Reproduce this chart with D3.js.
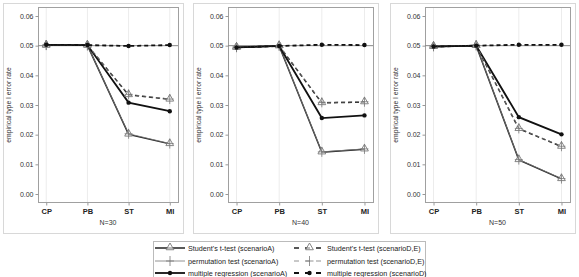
<!DOCTYPE html>
<html>
<head>
<meta charset="utf-8">
<script src="https://cdn.jsdelivr.net/npm/d3@7.9.0/dist/d3.min.js"></script>
<style>
  body { margin: 0; background: #fff; }
  svg { display: block; font-family: 'Liberation Sans', Arial, sans-serif; }
</style>
</head>
<body>
<svg id="chart" width="579" height="277"></svg>
<script>
const categories = ['CP', 'PB', 'ST', 'MI'];
const panelLabels = ['N=30', 'N=40', 'N=50'];
const yTicks = [0, 0.01, 0.02, 0.03, 0.04, 0.05, 0.06];

// one row per panel (N=30, N=40, N=50), values for CP, PB, ST, MI
const tTestA = [
  [0.0501, 0.0501, 0.0201, 0.0169],
  [0.0494, 0.0499, 0.0141, 0.0151],
  [0.0497, 0.0500, 0.0115, 0.0051],
];
const permA = [
  [0.0502, 0.0501, 0.0203, 0.0170],
  [0.0495, 0.0500, 0.0142, 0.0152],
  [0.0498, 0.0501, 0.0116, 0.0052],
];
const regA = [
  [0.0503, 0.0502, 0.0308, 0.0279],
  [0.0494, 0.0499, 0.0256, 0.0265],
  [0.0497, 0.0500, 0.0259, 0.0201],
];
const tTestDE = [
  [0.0501, 0.0501, 0.0334, 0.0319],
  [0.0494, 0.0499, 0.0307, 0.0310],
  [0.0497, 0.0500, 0.0220, 0.0160],
];
const permDE = [
  [0.0502, 0.0501, 0.0336, 0.0320],
  [0.0495, 0.0500, 0.0309, 0.0311],
  [0.0498, 0.0501, 0.0221, 0.0161],
];
const regD = [
  [0.0503, 0.0502, 0.0499, 0.0502],
  [0.0494, 0.0499, 0.0503, 0.0502],
  [0.0497, 0.0500, 0.0503, 0.0503],
];

const series = [
  { name: "Student's t-test (scenarioA)", values: tTestA, dash: null, marker: 'triangle', width: 1.5, color: '#222' },
  { name: 'permutation test (scenarioA)', values: permA, dash: null, marker: 'plus', width: 0.8, color: '#777' },
  { name: 'multiple regression (scenarioA)', values: regA, dash: null, marker: 'circle', width: 1.8, color: '#111' },
  { name: "Student's t-test (scenarioD,E)", values: tTestDE, dash: '4,3', marker: 'triangle', width: 1.5, color: '#222' },
  { name: 'permutation test (scenarioD,E)', values: permDE, dash: '4,3', marker: 'plus', width: 0.8, color: '#777' },
  { name: 'multiple regression (scenarioD)', values: regD, dash: '4,3', marker: 'circle', width: 1.8, color: '#111' },
];

const svg = d3.select('#chart');

const panels = [
  { x: 3, w: 180 },
  { x: 193, w: 185 },
  { x: 390, w: 185 },
];

const boxTop = 3;
const boxBottom = 233;
const plotTop = 7;
const plotBottom = 202;

function drawMarker(g, type, x, y, color) {
  if (type === 'triangle') {
    g.append('path')
      .attr('d', d3.symbol(d3.symbolTriangle, 26)())
      .attr('transform', `translate(${x},${y - 0.5})`)
      .attr('fill', '#fff')
      .attr('fill-opacity', 0.6)
      .attr('stroke', '#777')
      .attr('stroke-width', 0.9);
  } else if (type === 'plus') {
    g.append('path')
      .attr('d', `M${x - 4},${y}H${x + 4}M${x},${y - 5}V${y + 5}`)
      .attr('stroke', color)
      .attr('stroke-width', 0.8);
  } else {
    g.append('circle')
      .attr('cx', x)
      .attr('cy', y)
      .attr('r', 2.2)
      .attr('fill', '#111');
  }
}

panels.forEach((p, i) => {
  const g = svg.append('g');

  g.append('rect')
    .attr('x', p.x + 0.5)
    .attr('y', boxTop + 0.5)
    .attr('width', p.w)
    .attr('height', boxBottom - boxTop)
    .attr('fill', 'none')
    .attr('stroke', '#d8d8d8');

  const left = p.x + 35;
  const right = p.x + p.w - 5;

  const x = d3.scalePoint().domain(categories).range([left, right]).padding(0.2);
  const y = d3.scaleLinear().domain([0, 0.06]).range([194, 16]);

  // vertical gridlines at categories
  g.append('g')
    .selectAll('line')
    .data(categories)
    .join('line')
    .attr('x1', (d) => x(d))
    .attr('x2', (d) => x(d))
    .attr('y1', plotTop)
    .attr('y2', plotBottom)
    .attr('stroke', '#ececec');

  g.append('rect')
    .attr('x', left + 0.5)
    .attr('y', plotTop + 0.5)
    .attr('width', right - left)
    .attr('height', plotBottom - plotTop)
    .attr('fill', 'none')
    .attr('stroke', '#a0a0a0');

  const yAxis = g.append('g')
    .attr('transform', `translate(${left + 0.5},0)`)
    .call(d3.axisLeft(y).tickValues(yTicks).tickFormat(d3.format('.2f')).tickSize(3).tickPadding(2));
  yAxis.select('.domain').remove();
  yAxis.selectAll('line').attr('stroke', '#999');
  yAxis.selectAll('text').attr('font-size', 7).attr('fill', '#333').attr('font-family', null);

  const xAxis = g.append('g')
    .attr('transform', `translate(0,${plotBottom + 0.5})`)
    .call(d3.axisBottom(x).tickSize(3).tickPadding(3));
  xAxis.select('.domain').remove();
  xAxis.selectAll('line').attr('stroke', '#999');
  xAxis.selectAll('text')
    .attr('font-size', 7.5)
    .attr('font-weight', 'bold')
    .attr('fill', '#222')
    .attr('font-family', null);

  g.append('text')
    .attr('x', (left + right) / 2)
    .attr('y', 225)
    .attr('text-anchor', 'middle')
    .attr('font-size', 7)
    .attr('fill', '#333')
    .text(panelLabels[i]);

  g.append('text')
    .attr('transform', `translate(${p.x + 8},${105}) rotate(-90)`)
    .attr('text-anchor', 'middle')
    .attr('font-size', 6.8)
    .attr('fill', '#333')
    .text('empirical type I error rate');

  // reference line at 0.05
  g.append('line')
    .attr('x1', left)
    .attr('x2', right)
    .attr('y1', y(0.05))
    .attr('y2', y(0.05))
    .attr('stroke', '#888')
    .attr('stroke-width', 1);

  const line = d3.line().x((d, j) => x(categories[j])).y((d) => y(d));

  series.forEach((s) => {
    const vals = s.values[i];
    g.append('path')
      .attr('d', line(vals))
      .attr('fill', 'none')
      .attr('stroke', s.color)
      .attr('stroke-width', s.width)
      .attr('stroke-dasharray', s.dash);
    vals.forEach((v, j) => drawMarker(g, s.marker, x(categories[j]), y(v), s.color));
  });
});

// legend
const legend = svg.append('g');
legend.append('rect')
  .attr('x', 153.5)
  .attr('y', 241.5)
  .attr('width', 272)
  .attr('height', 50)
  .attr('fill', 'none')
  .attr('stroke', '#bbb');

const rowY = [248, 261, 273];
series.forEach((s, k) => {
  const col = Math.floor(k / 3);
  const yy = rowY[k % 3];
  const x0 = col === 0 ? 155 : 294;
  const x1 = col === 0 ? 185 : 325;
  const tx = col === 0 ? 188 : 327;
  legend.append('line')
    .attr('x1', x0)
    .attr('x2', x1)
    .attr('y1', yy)
    .attr('y2', yy)
    .attr('stroke', s.color)
    .attr('stroke-width', s.width)
    .attr('stroke-dasharray', col === 0 ? null : '5,6');
  drawMarker(legend, s.marker, (x0 + x1) / 2, yy, s.color);
  legend.append('text')
    .attr('x', tx)
    .attr('y', yy + 2.5)
    .attr('font-size', 7.2)
    .attr('fill', '#222')
    .text(s.name);
});
</script>
</body>
</html>
